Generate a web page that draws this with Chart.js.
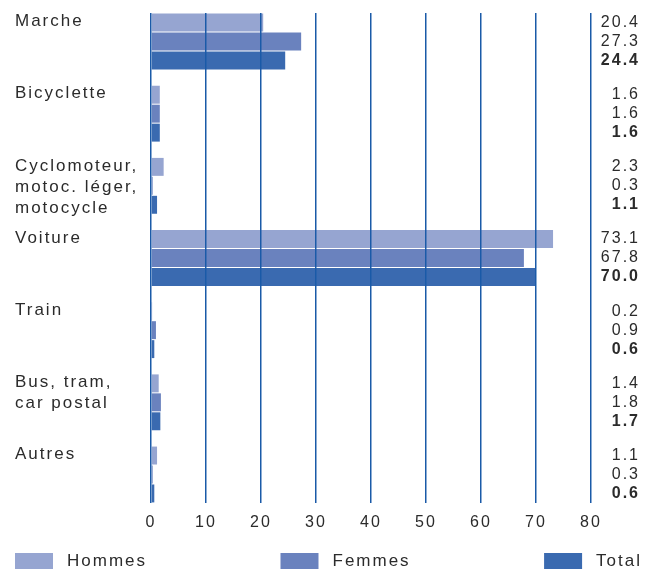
<!DOCTYPE html>
<html>
<head>
<meta charset="utf-8">
<script src="https://cdn.jsdelivr.net/npm/chart.js@4"></script>
<style>
  html, body { margin: 0; padding: 0; background: #fff; }
  canvas { display: block; }
</style>
</head>
<body>
<canvas id="chartCanvas" width="649" height="569"></canvas>
<script>
const canvas = document.getElementById("chartCanvas");

// Data
const categories = [
  "Marche",
  "Bicyclette",
  ["Cyclomoteur,", "motoc. léger,", "motocycle"],
  "Voiture",
  "Train",
  ["Bus, tram,", "car postal"],
  "Autres",
];
const seriesNames = ["Hommes", "Femmes", "Total"];
const hommes = [20.4, 1.6, 2.3, 73.1, 0.2, 1.4, 1.1];
const femmes = [27.3, 1.6, 0.3, 67.8, 0.9, 1.8, 0.3];
const total = [24.4, 1.6, 1.1, 70.0, 0.6, 1.7, 0.6];
const xTicks = [0, 10, 20, 30, 40, 50, 60, 70, 80];

const colors = ["#96a5d1", "#6a82be", "#3a6ab0"];
const textColor = "#2b2b2b";
const fontFamily = "'Liberation Sans', Arial, sans-serif";
const lineH = 21;

// horizontal bars on a linear index axis so the groups fill the plot top to bottom
const toPoints = (arr) => arr.map((v, i) => ({ x: v, y: i }));

// every label padded to 3 lines so its first line sits level with the Hommes bar
const maxLines = 3;
const labelLines = (lab) => {
  const lines = Array.isArray(lab) ? lab.slice() : [lab];
  while (lines.length < maxLines) lines.push("");
  return lines;
};

// letter spacing, the reference text is tracked out
const spacingPlugin = {
  id: "spacing",
  beforeUpdate(chart) { chart.ctx.letterSpacing = "2px"; },
  beforeDraw(chart) { chart.ctx.letterSpacing = "2px"; },
};

// value column on the right, bold for Total
const valuesPlugin = {
  id: "values",
  afterDatasetsDraw(chart) {
    const ctx = chart.ctx;
    ctx.save();
    ctx.fillStyle = textColor;
    ctx.textAlign = "right";
    ctx.textBaseline = "middle";
    chart.data.datasets.forEach((ds, di) => {
      const meta = chart.getDatasetMeta(di);
      ctx.font = (di === 2 ? "bold " : "") + "16px " + fontFamily;
      meta.data.forEach((bar, i) => {
        ctx.fillText(ds.data[i].x.toFixed(1), chart.width - 9, bar.y);
      });
    });
    ctx.restore();
  },
};

// legend spread over the full width
const legendPlugin = {
  id: "spreadLegend",
  afterDraw(chart) {
    const ctx = chart.ctx;
    ctx.save();
    ctx.font = "17px " + fontFamily;
    ctx.textBaseline = "middle";
    ctx.textAlign = "left";
    const boxW = 38, gap = 14, left = 15, right = 640;
    const widths = seriesNames.map((n) => boxW + gap + ctx.measureText(n).width - 2);
    const free = right - left - widths.reduce((a, b) => a + b, 0);
    const space = free / (widths.length - 1);
    let x = left;
    const top = chart.chartArea.bottom + 50;
    seriesNames.forEach((n, i) => {
      ctx.fillStyle = colors[i];
      ctx.fillRect(x, top, boxW, 20);
      ctx.fillStyle = textColor;
      ctx.fillText(n, x + boxW + gap, top + 8.5);
      x += widths[i] + space;
    });
    ctx.restore();
  },
};

const chart = new Chart(canvas, {
  type: "bar",
  data: {
    datasets: [
      { label: seriesNames[0], data: toPoints(hommes), backgroundColor: colors[0] },
      { label: seriesNames[1], data: toPoints(femmes), backgroundColor: colors[1] },
      { label: seriesNames[2], data: toPoints(total), backgroundColor: colors[2] },
    ],
  },
  options: {
    indexAxis: "y",
    responsive: false,
    animation: false,
    categoryPercentage: 0.788,
    barPercentage: 0.947,
    layout: { padding: { top: 13, left: 15, right: 58, bottom: 36 } },
    scales: {
      x: {
        min: 0,
        max: 80,
        afterBuildTicks: (s) => { s.ticks = xTicks.map((v) => ({ value: v })); },
        afterFit: (s) => { s.height = 30; },
        grid: { color: "#1a5aa8", lineWidth: 1.5, drawTicks: false, z: 1 },
        border: { display: false },
        ticks: {
          color: textColor,
          padding: 10,
          font: { family: fontFamily, size: 16 },
        },
      },
      y: {
        type: "linear",
        reverse: true,
        offset: false,
        min: -0.395,
        max: 6.395,
        afterBuildTicks: (s) => { s.ticks = categories.map((_, i) => ({ value: i })); },
        afterFit: (s) => {
          s.width = 136;
          s.paddingTop = 0;
          s.paddingBottom = 0;
        },
        grid: { display: false, offset: false },
        border: { display: false },
        ticks: {
          color: textColor,
          crossAlign: "far",
          font: { family: fontFamily, size: 17, lineHeight: lineH + "px" },
          callback: (v) => labelLines(categories[v]),
          labelOffset: lineH - 20,
        },
      },
    },
    plugins: {
      legend: { display: false },
      tooltip: { enabled: false },
    },
  },
  plugins: [spacingPlugin, valuesPlugin, legendPlugin],
});
</script>
</body>
</html>
